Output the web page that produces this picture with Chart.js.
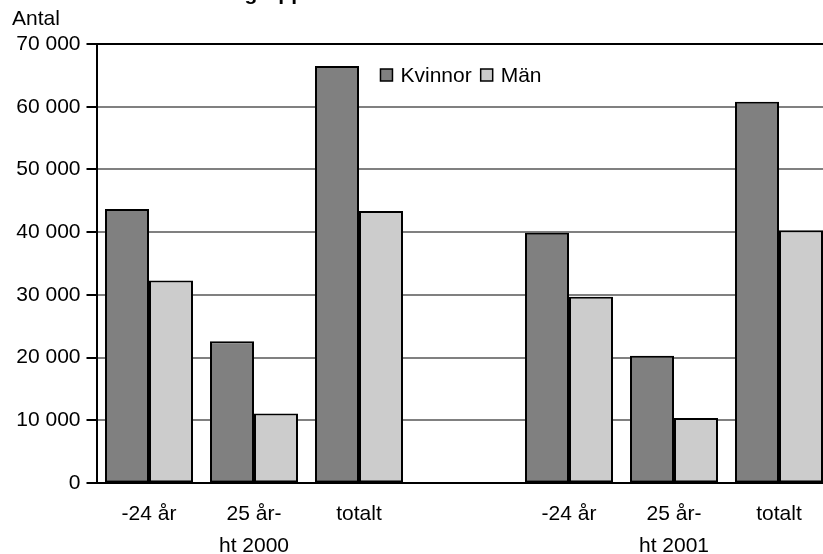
<!DOCTYPE html>
<html>
<head>
<meta charset="utf-8">
<script src="https://cdn.jsdelivr.net/npm/chart.js@4/dist/chart.umd.min.js"></script>
<style>
  html, body { margin: 0; padding: 0; background: #fff; overflow: hidden; }
  #wrap { position: relative; width: 840px; height: 578px; }
</style>
</head>
<body>
<div id="wrap"><canvas id="chart"></canvas></div>
<script>
// Data
const categories = ['-24 år', ['25 år-', 'ht 2000'], 'totalt', '', '-24 år', ['25 år-', 'ht 2001'], 'totalt'];
const kvinnor = [43700, 22600, 66500, null, 39900, 20300, 60800];
const man = [32300, 11100, 43400, null, 29700, 10400, 40300];
const seriesNames = ['Kvinnor', 'Män'];
const yMax = 70000;
const yStep = 10000;
const yAxisLabel = 'Antal';
const chartTitle = 'Registrerade studenter efter åldersgrupp';

const font = 'Liberation Sans, Arial, Helvetica, sans-serif';
const fontSize = 21;

// Format 70000 as "70 000"
function formatNumber(v) {
    return String(v).replace(/\B(?=(\d{3})+(?!\d))/g, ' ');
}

// Bold title, mostly cut off at the top edge
const cutTitle = {
    id: 'cutTitle',
    afterDraw(chart) {
        const ctx = chart.ctx;
        ctx.save();
        ctx.font = 'bold 21px ' + font;
        ctx.fillStyle = '#000';
        ctx.textAlign = 'right';
        ctx.textBaseline = 'alphabetic';
        ctx.fillText(chartTitle, 304, 0);
        ctx.restore();
    }
};

// Horizontal legend inside the plot area, near the top
const innerLegend = {
    id: 'innerLegend',
    afterDatasetsDraw(chart) {
        const ctx = chart.ctx;
        const area = chart.chartArea;
        const box = 12;
        ctx.save();
        ctx.font = fontSize + 'px ' + font;
        const items = chart.data.datasets.map(ds => ({
            text: ds.label,
            fill: ds.backgroundColor,
            w: ctx.measureText(ds.label).width
        }));
        let total = 0;
        items.forEach((it, i) => { total += box + 8 + it.w + (i < items.length - 1 ? 9 : 0); });
        let x = (area.left + area.right) / 2 - 3 - total / 2;
        const y = area.top + 31;
        items.forEach(it => {
            ctx.fillStyle = it.fill;
            ctx.fillRect(x, y - box / 2, box, box);
            ctx.strokeStyle = '#000';
            ctx.lineWidth = 1.5;
            ctx.strokeRect(x, y - box / 2, box, box);
            ctx.fillStyle = '#000';
            ctx.textBaseline = 'middle';
            ctx.fillText(it.text, x + box + 8, y + 1);
            x += box + 8 + it.w + 9;
        });
        ctx.restore();
    }
};

const ctx = document.getElementById('chart').getContext('2d');
new Chart(ctx, {
    type: 'bar',
    data: {
        labels: categories,
        datasets: [
            {
                label: seriesNames[0],
                data: kvinnor,
                backgroundColor: '#808080',
                borderColor: '#000',
                borderWidth: 2,
                borderSkipped: false
            },
            {
                label: seriesNames[1],
                data: man,
                backgroundColor: '#cccccc',
                borderColor: '#000',
                borderWidth: 2,
                borderSkipped: false
            }
        ]
    },
    options: {
        responsive: true,
        maintainAspectRatio: false,
        animation: false,
        datasets: {
            bar: { barPercentage: 1, categoryPercentage: 0.838 }
        },
        layout: {
            padding: { left: 12, right: 8.5, top: 0, bottom: 9 }
        },
        plugins: {
            title: {
                display: true,
                text: yAxisLabel,
                align: 'start',
                color: '#000',
                font: { family: font, size: fontSize, weight: 'normal', lineHeight: 1.2 },
                padding: { top: 7, bottom: 11.8 }
            },
            legend: { display: false },
            tooltip: { enabled: false }
        },
        scales: {
            x: {
                grid: { display: false },
                border: { display: true, color: '#000', width: 2 },
                ticks: {
                    color: '#000',
                    padding: 7,
                    maxRotation: 0,
                    autoSkip: false,
                    font: { family: font, size: fontSize, lineHeight: 1.52 }
                }
            },
            y: {
                min: 0,
                max: yMax,
                afterFit(scale) { scale.width = 84.5; },
                border: { display: true, color: '#000', width: 2 },
                grid: {
                    color: (c) => (c.tick && c.tick.value === yMax ? '#000' : '#808080'),
                    lineWidth: 2,
                    drawTicks: true,
                    tickLength: 10,
                    tickColor: '#000',
                    tickWidth: 2
                },
                ticks: {
                    stepSize: yStep,
                    color: '#000',
                    padding: 6,
                    font: { family: font, size: fontSize },
                    callback: (v) => formatNumber(v)
                }
            }
        }
    },
    plugins: [cutTitle, innerLegend]
});
</script>
</body>
</html>
